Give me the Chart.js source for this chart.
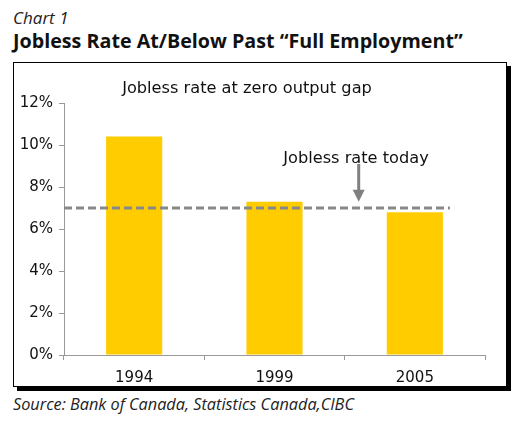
<!DOCTYPE html>
<html>
<head>
<meta charset="utf-8">
<script src="https://cdn.jsdelivr.net/npm/chart.js@4"></script>
<style>
  body { margin: 0; width: 525px; height: 429px; background: #fff; position: relative; overflow: hidden; }
  #kicker { position: absolute; left: 13px; top: 6px; font: italic 17px "Open Sans", sans-serif; color: #222; }
  #title { position: absolute; left: 13px; top: 27px; font: bold 19.7px "Open Sans", sans-serif; color: #111; white-space: nowrap; }
  #box { position: absolute; left: 13px; top: 62px; width: 492px; height: 323px; border: 1.5px solid #000; box-shadow: 4px 4px 0 #000; }
  #source { position: absolute; left: 13px; top: 393px; font: italic 16.3px "Open Sans", sans-serif; color: #222; white-space: nowrap; }
  #wrap { position: absolute; left: 0; top: 0; width: 525px; height: 429px; }
</style>
</head>
<body>
<div id="kicker">Chart 1</div>
<div id="title">Jobless Rate At/Below Past “Full Employment”</div>
<div id="box"></div>
<div id="source">Source: Bank of Canada, Statistics Canada,CIBC</div>
<div id="wrap"><canvas id="MyChart"></canvas></div>
<script>
// datos del grafico
const years = ['1994', '1999', '2005'];
const zeroGapRate = [10.4, 7.3, 6.8];
const todayRate = 7.0;
const arrowTop = 9.1;
const yMax = 12;
const yStep = 2;

Chart.defaults.font.family = '"DejaVu Sans", Verdana, sans-serif';
Chart.defaults.font.size = 15;
Chart.defaults.color = '#111';

// texto, linea punteada y flecha
const notes = {
  id: 'notes',
  afterDatasetsDraw(chart) {
    const c = chart.ctx, x = chart.scales.x, y = chart.scales.y, a = chart.chartArea;
    c.save();
    // linea de hoy
    const yLine = y.getPixelForValue(todayRate);
    c.strokeStyle = '#888';
    c.lineWidth = 3;
    c.setLineDash([8, 4]);
    c.beginPath();
    c.moveTo(a.left, yLine);
    c.lineTo(x.getPixelForValue(2) + 35, yLine);
    c.stroke();
    c.setLineDash([]);
    // flecha
    const ax = x.getPixelForValue(1.6);
    const tip = y.getPixelForValue(zeroGapRate[1]);
    c.strokeStyle = '#808080';
    c.fillStyle = '#808080';
    c.lineWidth = 3;
    c.beginPath();
    c.moveTo(ax, y.getPixelForValue(arrowTop));
    c.lineTo(ax, tip - 10);
    c.stroke();
    c.beginPath();
    c.moveTo(ax - 6, tip - 12);
    c.lineTo(ax + 6, tip - 12);
    c.lineTo(ax, tip);
    c.closePath();
    c.fill();
    // textos
    c.fillStyle = '#111';
    c.font = '16.2px "DejaVu Sans", Verdana, sans-serif';
    c.textAlign = 'center';
    c.textBaseline = 'alphabetic';
    c.fillText('Jobless rate at zero output gap', 247, 93);
    c.fillText('Jobless rate today', 356, 163);
    c.restore();
  }
};

const myChart = new Chart(document.getElementById('MyChart'), {
  type: 'bar',
  data: {
    labels: years,
    datasets: [{
      label: 'Jobless rate at zero output gap',
      data: zeroGapRate,
      backgroundColor: '#FFCC00',
      barPercentage: 0.4,
      categoryPercentage: 1.0
    }]
  },
  options: {
    responsive: true,
    maintainAspectRatio: false,
    animation: false,
    layout: { padding: { left: 0, right: 40, top: 103, bottom: 34 } },
    plugins: { legend: { display: false }, tooltip: { enabled: false } },
    scales: {
      x: {
        grid: { offset: true, drawOnChartArea: false, drawTicks: true, tickLength: 5, color: '#999' },
        border: { color: '#999', width: 1 },
        ticks: { padding: 9, color: '#111' },
        afterFit(s) { s.height = 40; }
      },
      y: {
        min: 0, max: yMax,
        grid: { drawOnChartArea: false, tickLength: 5, color: '#999' },
        border: { color: '#999', width: 1 },
        ticks: { stepSize: yStep, padding: 6, color: '#111', callback: v => v + '%' },
        afterFit(s) { s.width = 64; }
      }
    }
  },
  plugins: [notes]
});
</script>
</body>
</html>
